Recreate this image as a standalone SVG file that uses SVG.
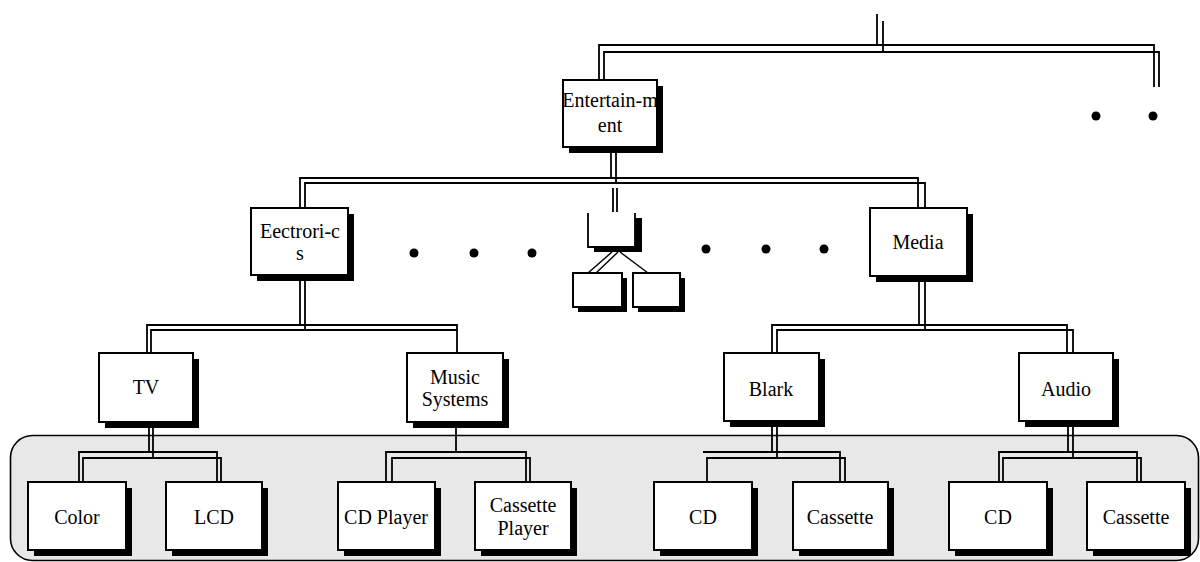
<svg xmlns="http://www.w3.org/2000/svg" width="1200" height="562" viewBox="0 0 1200 562">
<style>
.bg{fill:#ffffff}
.panel{fill:#e8e8e8;stroke:#000;stroke-width:1.6}
.sh{fill:#000}
.bx{fill:#fff;stroke:#000;stroke-width:2}
.ln{fill:none;stroke:#000;stroke-width:1.8}
.thin{fill:none;stroke:#000;stroke-width:1.4}
.dot{fill:#000}
text{font-family:"Liberation Serif","Times New Roman",serif;font-size:20px;fill:#000;text-anchor:middle}
</style>
<rect class="bg" x="0" y="0" width="1200" height="562"/>
<rect class="panel" x="10.5" y="435.5" width="1188" height="125" rx="22" ry="22"/>

<g id="connectors">
  <!-- top level -->
  <path class="ln" d="M877,14 V45 M599,80 V45 H1154 V87"/>
  <path class="ln" d="M883,21 V52 M604,80 V52 H1159 V87"/>
  <!-- from Entertainment -->
  <path class="ln" d="M611,153 V178 M300,208 V178 H918 V208"/>
  <path class="ln" d="M616,153 V183 M305,208 V183 H925 V208"/>
  <path class="ln" d="M613,188 V212 M617,188 V212"/>
  <!-- small sub-tree -->
  <path class="thin" d="M612,252 L588,273 M618,252 L596,273 M620,252 L648,273"/>
  <!-- from Electronics -->
  <path class="ln" d="M300,279 V325 M147,353 V325 H457 V353"/>
  <path class="ln" d="M305,279 V330 M151,353 V330 H457"/>
  <!-- from Media -->
  <path class="ln" d="M919,280 V325 M772,353 V325 H1067 V353"/>
  <path class="ln" d="M925,280 V330 M777,353 V330 H1073 V353"/>
  <!-- from TV -->
  <path class="ln" d="M149,427 V452 M79,482 V452 H217 V482"/>
  <path class="ln" d="M153,427 V458 M83,482 V458 H221 V482"/>
  <!-- from Music Systems -->
  <path class="ln" d="M456,427 V452 M386,482 V452 H526 V482"/>
  <path class="ln" d="M392,482 V458 H530 V482"/>
  <!-- from Blark -->
  <path class="ln" d="M772,427 V452 M703,452 H840 V482"/>
  <path class="ln" d="M777,427 V458 M707,482 V458 H845 V482"/>
  <!-- from Audio -->
  <path class="ln" d="M1068,427 V452 M999,482 V452 H1137 V482"/>
  <path class="ln" d="M1073,427 V458 M1003,482 V458 H1141 V482"/>
</g>

<g id="dots">
  <circle class="dot" cx="1096" cy="116" r="4.5"/>
  <circle class="dot" cx="1153" cy="116" r="4.5"/>
  <circle class="dot" cx="414" cy="253" r="4.5"/>
  <circle class="dot" cx="474" cy="253" r="4.5"/>
  <circle class="dot" cx="532" cy="253" r="4.5"/>
  <circle class="dot" cx="706" cy="249" r="4.5"/>
  <circle class="dot" cx="766" cy="249" r="4.5"/>
  <circle class="dot" cx="824" cy="249" r="4.5"/>
</g>

<g id="n-entertainment">
  <rect class="sh" x="569" y="86" width="94" height="67"/>
  <rect class="bx" x="563" y="80" width="94" height="67"/>
  <text x="610" y="107">Entertain-m</text>
  <text x="610" y="132">ent</text>
</g>
<g id="n-electronics">
  <rect class="sh" x="257" y="214" width="97" height="67"/>
  <rect class="bx" x="251" y="208" width="97" height="67"/>
  <text x="300" y="238">Eectrori-c</text>
  <text x="300" y="260">s</text>
</g>
<g id="n-small">
  <rect class="sh" x="594" y="218" width="48" height="34"/>
  <rect x="588" y="213" width="47" height="34" fill="#fff"/>
  <path class="ln" d="M588,213 V247 H635 V213"/>
</g>
<g id="n-small-1">
  <rect class="sh" x="578" y="278" width="49" height="34"/>
  <rect class="bx" x="573" y="273" width="49" height="34"/>
</g>
<g id="n-small-2">
  <rect class="sh" x="638" y="278" width="47" height="34"/>
  <rect class="bx" x="633" y="273" width="47" height="34"/>
</g>
<g id="n-media">
  <rect class="sh" x="876" y="214" width="97" height="68"/>
  <rect class="bx" x="870" y="208" width="97" height="68"/>
  <text x="918" y="249">Media</text>
</g>
<g id="n-tv">
  <rect class="sh" x="105" y="359" width="94" height="69"/>
  <rect class="bx" x="99" y="353" width="94" height="69"/>
  <text x="146" y="394">TV</text>
</g>
<g id="n-music">
  <rect class="sh" x="413" y="359" width="96" height="69"/>
  <rect class="bx" x="407" y="353" width="96" height="69"/>
  <text x="455" y="384">Music</text>
  <text x="455" y="406">Systems</text>
</g>
<g id="n-blark">
  <rect class="sh" x="730" y="359" width="95" height="68"/>
  <rect class="bx" x="724" y="353" width="95" height="68"/>
  <text x="771" y="396">Blark</text>
</g>
<g id="n-audio">
  <rect class="sh" x="1025" y="359" width="94" height="68"/>
  <rect class="bx" x="1019" y="353" width="94" height="68"/>
  <text x="1066" y="396">Audio</text>
</g>
<g id="n-color">
  <rect class="sh" x="34" y="488" width="98" height="68"/>
  <rect class="bx" x="28" y="482" width="98" height="68"/>
  <text x="77" y="524">Color</text>
</g>
<g id="n-lcd">
  <rect class="sh" x="172" y="488" width="96" height="68"/>
  <rect class="bx" x="166" y="482" width="96" height="68"/>
  <text x="214" y="524">LCD</text>
</g>
<g id="n-cdplayer">
  <rect class="sh" x="344" y="488" width="97" height="68"/>
  <rect class="bx" x="338" y="482" width="97" height="68"/>
  <text x="386" y="524">CD Player</text>
</g>
<g id="n-cassetteplayer">
  <rect class="sh" x="481" y="488" width="96" height="68"/>
  <rect class="bx" x="475" y="482" width="96" height="68"/>
  <text x="523" y="512">Cassette</text>
  <text x="523" y="535">Player</text>
</g>
<g id="n-cd1">
  <rect class="sh" x="660" y="488" width="98" height="68"/>
  <rect class="bx" x="654" y="482" width="98" height="68"/>
  <text x="703" y="524">CD</text>
</g>
<g id="n-cassette1">
  <rect class="sh" x="799" y="488" width="95" height="68"/>
  <rect class="bx" x="793" y="482" width="95" height="68"/>
  <text x="840" y="524">Cassette</text>
</g>
<g id="n-cd2">
  <rect class="sh" x="955" y="488" width="98" height="68"/>
  <rect class="bx" x="949" y="482" width="98" height="68"/>
  <text x="998" y="524">CD</text>
</g>
<g id="n-cassette2">
  <rect class="sh" x="1093" y="488" width="98" height="68"/>
  <rect class="bx" x="1087" y="482" width="98" height="68"/>
  <text x="1136" y="524">Cassette</text>
</g>
</svg>
